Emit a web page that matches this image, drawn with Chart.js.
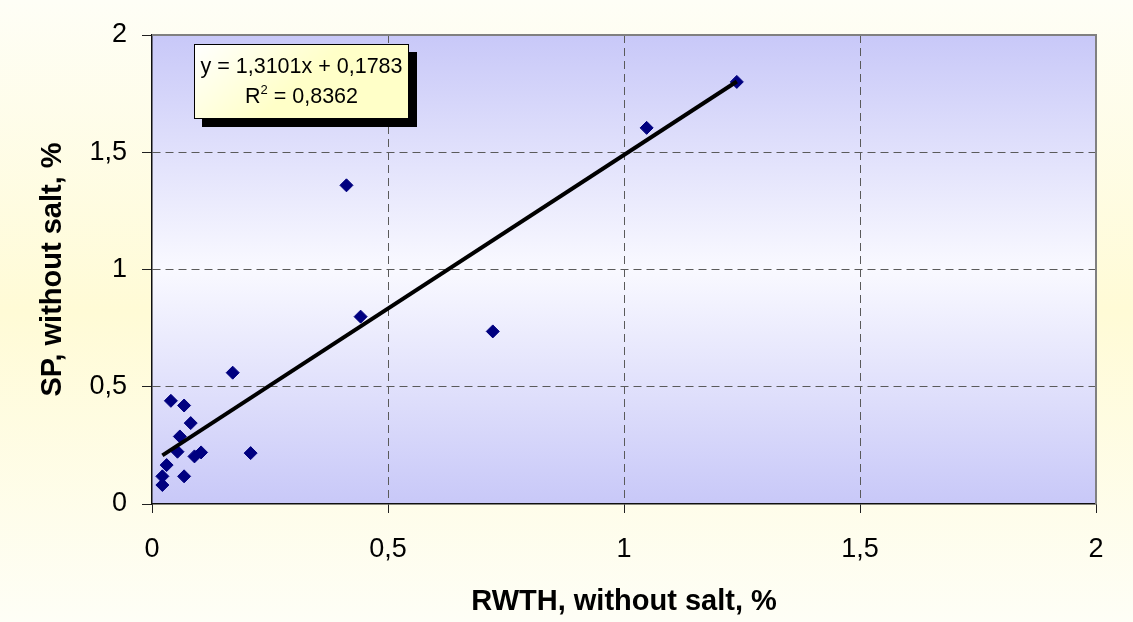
<!DOCTYPE html>
<html>
<head>
<meta charset="utf-8">
<title>SP vs RWTH</title>
<script src="https://cdn.jsdelivr.net/npm/chart.js@4"></script>
<style>
  html, body { margin: 0; padding: 0; background: #fefef6; }
  canvas { display: block; }
</style>
</head>
<body>
<canvas id="scatterChart" width="1133" height="622"></canvas>
<script>
// Measured samples, salt excluded
const rwth = [0.022, 0.022, 0.031, 0.040, 0.054, 0.059, 0.068, 0.068, 0.082, 0.090, 0.104, 0.171, 0.209, 0.412, 0.442, 0.722, 1.048, 1.239];
const sp   = [0.081, 0.118, 0.166, 0.440, 0.223, 0.288, 0.420, 0.118, 0.345, 0.203, 0.220, 0.560, 0.217, 1.359, 0.799, 0.736, 1.604, 1.800];

// Linear fit
const slope = 1.3101;
const intercept = 0.1783;
const rSquared = 0.8362;

const tickValues = [0, 0.5, 1, 1.5, 2];
const tickLabels = ['0', '0,5', '1', '1,5', '2'];

const FONT = 'Arial, "Liberation Sans", sans-serif';

function comma(v, digits) {
    return v.toFixed(digits).replace('.', ',');
}

const points = rwth.map((x, i) => ({ x: x, y: sp[i] }));
const xMin = Math.min(...rwth);
const xMax = Math.max(...rwth);
const trend = [
    { x: xMin, y: slope * xMin + intercept },
    { x: xMax, y: slope * xMax + intercept }
];

const backgrounds = {
    id: 'backgrounds',
    beforeDraw(chart) {
        const { ctx, width, height, chartArea: a } = chart;
        ctx.save();
        let g = ctx.createLinearGradient(0, 0, 0, height);
        g.addColorStop(0, '#fefef6');
        g.addColorStop(0.5, '#fffbd6');
        g.addColorStop(1, '#fefef6');
        ctx.fillStyle = g;
        ctx.fillRect(0, 0, width, height);

        g = ctx.createLinearGradient(0, a.top, 0, a.bottom);
        g.addColorStop(0, '#c8c8f8');
        g.addColorStop(0.5, '#f9f9ff');
        g.addColorStop(1, '#c8c8f8');
        ctx.fillStyle = g;
        ctx.fillRect(a.left, a.top, a.right - a.left, a.bottom - a.top);
        ctx.restore();
    }
};

// grey frame on top/right and the equation box
const overlay = {
    id: 'overlay',
    afterDraw(chart) {
        const { ctx, chartArea: a } = chart;
        ctx.save();
        ctx.strokeStyle = '#808080';
        ctx.lineWidth = 2;
        ctx.beginPath();
        ctx.moveTo(a.left, a.top);
        ctx.lineTo(a.right, a.top);
        ctx.lineTo(a.right, a.bottom);
        ctx.stroke();

        const bx = a.left + 42, by = a.top + 9, bw = 215, bh = 75;
        ctx.fillStyle = '#000';
        ctx.fillRect(bx + 8, by + 8, bw, bh);
        const g = ctx.createLinearGradient(bx, by, bx + bw * 0.3, by + bh);
        g.addColorStop(0, '#ffffff');
        g.addColorStop(1, '#ffffc8');
        ctx.fillStyle = g;
        ctx.fillRect(bx, by, bw, bh);
        ctx.strokeStyle = '#000';
        ctx.lineWidth = 1;
        ctx.strokeRect(bx + 0.5, by + 0.5, bw - 1, bh - 1);

        const cx = bx + bw / 2;
        ctx.fillStyle = '#000';
        ctx.textBaseline = 'middle';
        ctx.font = '21.5px ' + FONT;
        ctx.textAlign = 'center';
        ctx.fillText('y = ' + comma(slope, 4) + 'x + ' + comma(intercept, 4), cx, by + 23);

        const rest = ' = ' + comma(rSquared, 4);
        const wR = ctx.measureText('R').width;
        const wRest = ctx.measureText(rest).width;
        ctx.font = '13px ' + FONT;
        const w2 = ctx.measureText('2').width;
        let x = cx - (wR + w2 + wRest) / 2;
        ctx.textAlign = 'left';
        ctx.font = '21.5px ' + FONT;
        ctx.fillText('R', x, by + 53);
        ctx.font = '13px ' + FONT;
        ctx.fillText('2', x + wR, by + 46);
        ctx.font = '21.5px ' + FONT;
        ctx.fillText(rest, x + wR + w2, by + 53);
        ctx.restore();
    }
};

function gridColor(c) {
    const v = c.tick ? c.tick.value : null;
    return (v === 0 || v === 2) ? 'rgba(0,0,0,0)' : '#5a5a5a';
}

function setTicks(scale) {
    scale.ticks = tickValues.map(v => ({ value: v }));
}

new Chart(document.getElementById('scatterChart'), {
    type: 'scatter',
    data: {
        datasets: [{
            type: 'line',
            label: 'Trend',
            data: trend,
            borderColor: '#000',
            borderWidth: 4,
            pointRadius: 0,
            fill: false,
            order: 0
        }, {
            label: 'Samples',
            data: points,
            pointStyle: 'rectRot',
            pointRadius: 6.5,
            pointBorderWidth: 1,
            pointBackgroundColor: '#000080',
            pointBorderColor: '#000080',
            order: 1
        }]
    },
    options: {
        responsive: false,
        animation: false,
        devicePixelRatio: 1,
        layout: {
            padding: { left: 0, top: 35, right: 37, bottom: 0 }
        },
        plugins: {
            legend: { display: false },
            tooltip: { enabled: false }
        },
        scales: {
            x: {
                type: 'linear',
                min: 0,
                max: 2,
                afterBuildTicks: setTicks,
                afterFit(scale) { scale.height = 118; },
                grid: {
                    color: gridColor,
                    lineWidth: 1,
                    tickLength: 9,
                    tickColor: '#202020',
                    tickBorderDash: []
                },
                border: { color: '#101010', width: 1.5, dash: [8, 5] },
                ticks: {
                    padding: 20,
                    color: '#000',
                    font: { family: FONT, size: 27 },
                    callback: (v, i) => tickLabels[i]
                },
                title: {
                    display: true,
                    text: 'RWTH, without salt, %',
                    color: '#000',
                    font: { family: FONT, size: 29, weight: 'bold' },
                    padding: { top: 0, bottom: 2.6 }
                }
            },
            y: {
                type: 'linear',
                min: 0,
                max: 2,
                afterBuildTicks: setTicks,
                afterFit(scale) { scale.width = 152; },
                grid: {
                    color: gridColor,
                    lineWidth: 1,
                    tickLength: 10,
                    tickColor: '#202020',
                    tickBorderDash: []
                },
                border: { color: '#101010', width: 1.5, dash: [8, 5] },
                ticks: {
                    padding: 15,
                    color: '#000',
                    font: { family: FONT, size: 27 },
                    callback: (v, i) => tickLabels[i]
                },
                title: {
                    display: true,
                    text: 'SP, without salt, %',
                    color: '#000',
                    font: { family: FONT, size: 29, weight: 'bold' },
                    padding: { top: 35.6, bottom: 0 }
                }
            }
        }
    },
    plugins: [backgrounds, overlay]
});
</script>
</body>
</html>
